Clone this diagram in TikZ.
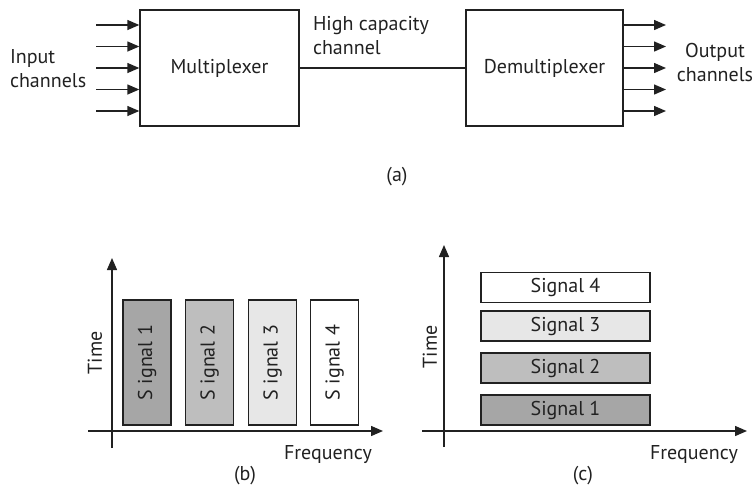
\documentclass[tikz,border=0pt]{standalone}
\usepackage{fontspec}
\setmainfont{PT Sans}
\usetikzlibrary{arrows.meta}
\definecolor{sigone}{gray}{0.65}
\definecolor{sigtwo}{gray}{0.745}
\definecolor{sigthree}{gray}{0.905}
\definecolor{ink}{gray}{0.13}
\begin{document}
\begin{tikzpicture}[x = 1pt, y = -1pt, line width = 1.4pt, color = ink,
  every node/.style = {font = \fontsize{20}{24}\selectfont},
  blockbox/.style = {draw, fill = white, inner sep = 0pt},
  tip/.style = {-{Triangle[length = 12pt, width = 10pt]}}]
  \useasboundingbox (0, 0) rectangle (756, 496);

  \node[blockbox, minimum width = 159pt, minimum height = 116pt] (mux) at (219.5, 68) {Multiplexer};
  \node[blockbox, minimum width = 157pt, minimum height = 116pt] (demux) at (544.5, 68) {Demultiplexer};
  \draw (mux) -- (demux);

  \foreach \i/\y in {1/25, 2/46.5, 3/68, 4/89.5, 5/111} {
    \coordinate (in\i) at (96, \y);
    \coordinate (out\i) at (666, \y);
    \draw[tip] (in\i) -- (in\i -| mux.west);
    \draw[tip] (out\i -| demux.east) -- (out\i);
  }

  \node[align = left, anchor = west] (inlabel) at (6, 69) {Input\\channels};
  \node[align = left, anchor = north west] (chlabel) at (309, 12) {High capacity\\channel};
  \node[align = center] (outlabel) at (715, 62) {Output\\channels};
  \node (capa) at (397, 177) {(a)};

  \coordinate (bylow) at (112, 448);
  \coordinate (bytop) at (112, 258);
  \coordinate (bxlow) at (88, 431);
  \coordinate (bxtop) at (383, 431);
  \draw[tip] (bylow) -- (bytop);
  \draw[tip] (bxlow) -- (bxtop);
  \foreach \i/\x/\c in {1/147/sigone, 2/209.5/sigtwo, 3/272.5/sigthree, 4/334.5/white}
    \node[blockbox, fill = \c, rotate = 90, minimum width = 125pt, minimum height = 48pt]
      (bsig\i) at (\x, 362.5) {S ignal \i};
  \node[rotate = 90] (btime) at (95, 353) {Time};
  \node (bfreq) at (328, 455) {Frequency};
  \node (capb) at (245, 476) {(b)};

  \coordinate (cylow) at (444, 447);
  \coordinate (cytop) at (444, 245);
  \coordinate (cxlow) at (422, 431);
  \coordinate (cxtop) at (747, 431);
  \draw[tip] (cylow) -- (cytop);
  \draw[tip] (cxlow) -- (cxtop);
  \foreach \i/\y/\c in {1/410/sigone, 2/368/sigtwo, 3/326/sigthree, 4/287.5/white}
    \node[blockbox, fill = \c, minimum width = 169pt, minimum height = 30pt]
      (csig\i) at (565.5, \y) {Signal \i};
  \node[rotate = 90] (ctime) at (430, 347) {Time};
  \node (cfreq) at (694, 455) {Frequency};
  \node (capc) at (583, 476) {(c)};
\end{tikzpicture}
\end{document}
